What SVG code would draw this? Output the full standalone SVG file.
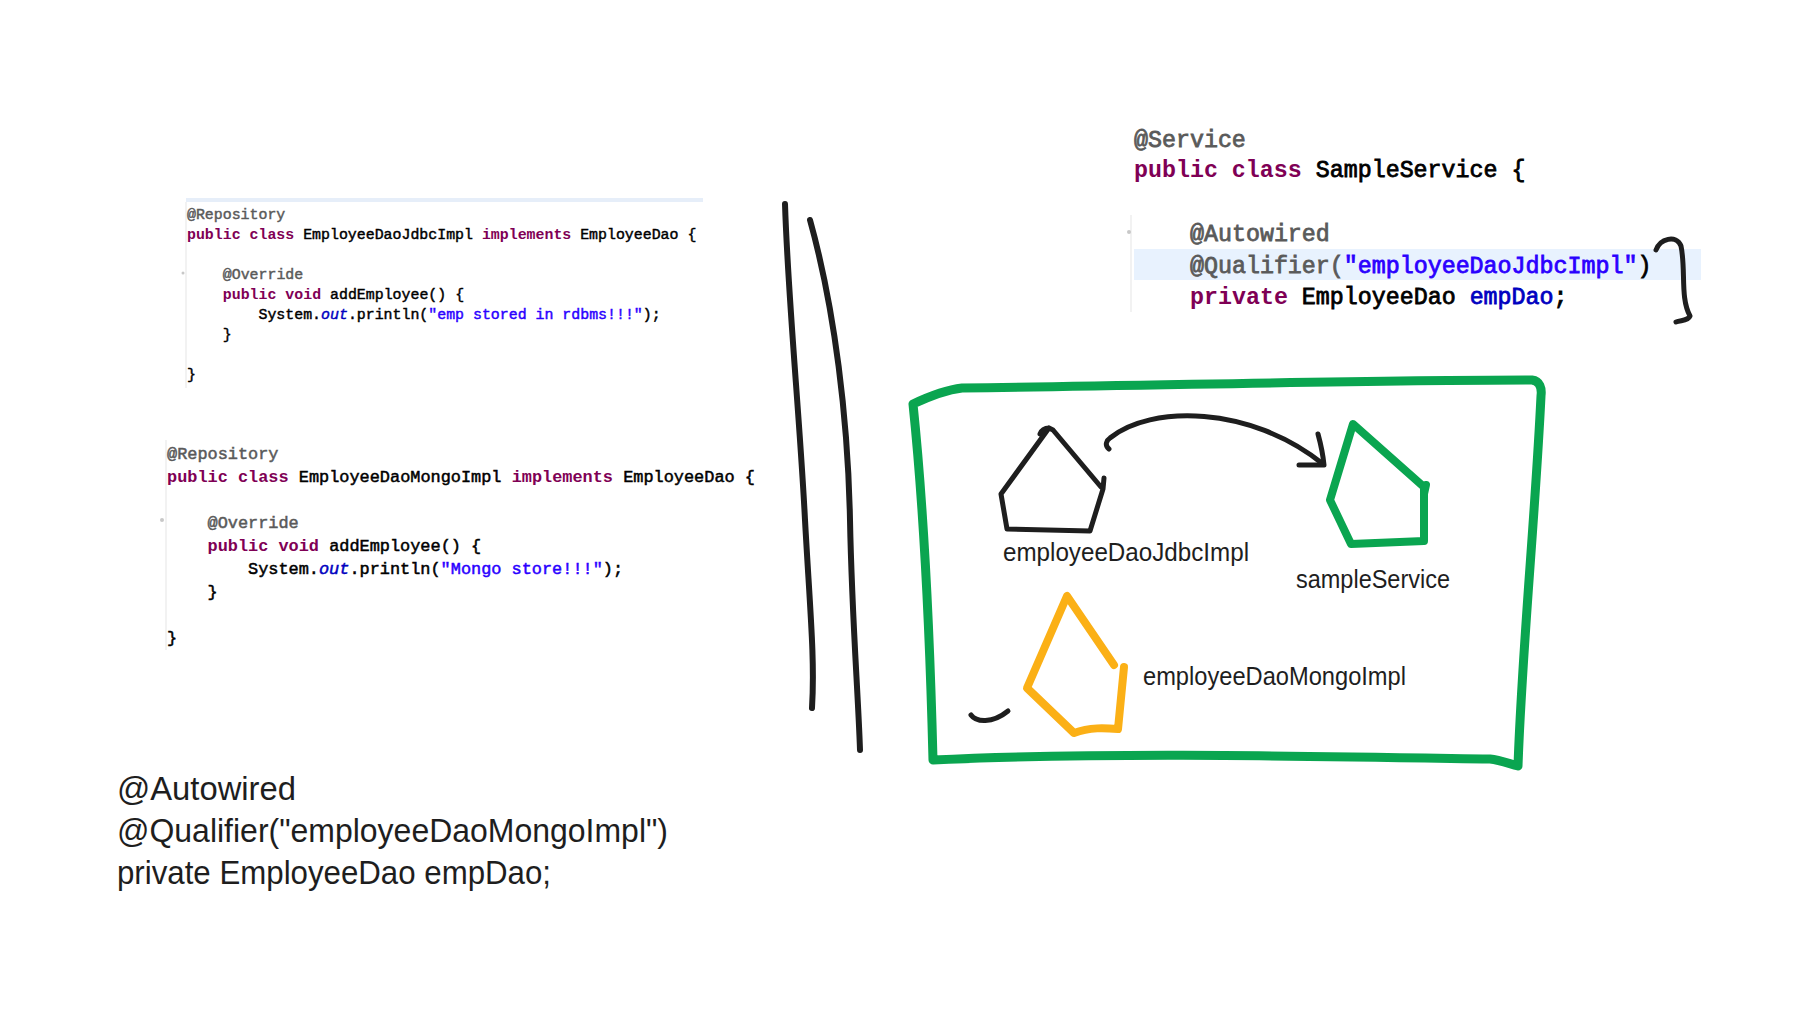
<svg xmlns="http://www.w3.org/2000/svg" width="1801" height="1010" viewBox="0 0 1801 1010">
<style>
.code{font-family:"Liberation Mono","DejaVu Sans Mono",monospace;}
.kw{fill:#7f0055;font-weight:bold}
.an{fill:#5a5a5a;stroke:#5a5a5a}
.st{fill:#2a00ff;stroke:#2a00ff}
.fd{fill:#0000c0;stroke:#0000c0}
.it{fill:#0000c0;stroke:#0000c0;font-style:italic}
.tx{fill:#000;stroke:#000}
.hand{font-family:"Liberation Sans","DejaVu Sans",sans-serif;fill:#1e1e1e}
.ink{fill:none;stroke:#1e1e1e;stroke-linecap:round;stroke-linejoin:round}
.green{fill:none;stroke:#0aa550;stroke-linecap:round;stroke-linejoin:round}
.orange{fill:none;stroke:#fbb016;stroke-linecap:round;stroke-linejoin:round}
.edge{stroke:#eeeeee;stroke-width:1.5}
</style>
<rect width="1801" height="1010" fill="#ffffff"/>

<g id="code-jdbc" class="code" font-size="14.9" stroke-width="0.45">
  <line x1="186" y1="200" x2="703" y2="200" stroke="#e6eef9" stroke-width="4"/>
  <line class="edge" x1="186" y1="202" x2="186" y2="388"/>
  <circle cx="183" cy="273" r="1.5" fill="#c8c8c8" stroke="none"/>
  <text x="187" y="219" class="an">@Repository</text>
  <text x="187" y="239"><tspan class="kw">public class</tspan><tspan class="tx"> EmployeeDaoJdbcImpl </tspan><tspan class="kw">implements</tspan><tspan class="tx"> EmployeeDao {</tspan></text>
  <text x="222.8" y="279" class="an">@Override</text>
  <text x="222.8" y="299"><tspan class="kw">public void</tspan><tspan class="tx"> addEmployee() {</tspan></text>
  <text x="258.5" y="319"><tspan class="tx">System.</tspan><tspan class="it">out</tspan><tspan class="tx">.println(</tspan><tspan class="st">"emp stored in rdbms!!!"</tspan><tspan class="tx">);</tspan></text>
  <text x="222.8" y="339" class="tx">}</text>
  <text x="187" y="379" class="tx">}</text>
</g>

<g id="code-mongo" class="code" font-size="16.9" stroke-width="0.5">
  <line class="edge" x1="166" y1="440" x2="166" y2="650"/>
  <circle cx="162" cy="520" r="2" fill="#c8c8c8" stroke="none"/>
  <text x="167" y="459" class="an">@Repository</text>
  <text x="167" y="482"><tspan class="kw">public class</tspan><tspan class="tx"> EmployeeDaoMongoImpl </tspan><tspan class="kw">implements</tspan><tspan class="tx"> EmployeeDao {</tspan></text>
  <text x="207.5" y="528" class="an">@Override</text>
  <text x="207.5" y="551"><tspan class="kw">public void</tspan><tspan class="tx"> addEmployee() {</tspan></text>
  <text x="248" y="574"><tspan class="tx">System.</tspan><tspan class="it">out</tspan><tspan class="tx">.println(</tspan><tspan class="st">"Mongo store!!!"</tspan><tspan class="tx">);</tspan></text>
  <text x="207.5" y="597" class="tx">}</text>
  <text x="167" y="643" class="tx">}</text>
</g>

<g id="code-service" class="code" font-size="23.3" stroke-width="0.8">
  <rect x="1134" y="249" width="567" height="31" fill="#e8f2fe" stroke="none"/>
  <line class="edge" x1="1131" y1="215" x2="1131" y2="312"/>
  <circle cx="1129" cy="232" r="2" fill="#c8c8c8" stroke="none"/>
  <text x="1134" y="147" class="an">@Service</text>
  <text x="1134" y="177"><tspan class="kw">public class</tspan><tspan class="tx"> SampleService {</tspan></text>
  <text x="1190" y="241" class="an">@Autowired</text>
  <text x="1190" y="273"><tspan class="an">@Qualifier(</tspan><tspan class="st">"employeeDaoJdbcImpl"</tspan><tspan class="tx">)</tspan></text>
  <text x="1190" y="304"><tspan class="kw">private</tspan><tspan class="tx"> EmployeeDao </tspan><tspan class="fd">empDao</tspan><tspan class="tx">;</tspan></text>
</g>

<g id="bracket">
  <path class="ink" stroke-width="5" d="M1656,250 C1660,239 1676,234 1681,246 C1686,270 1680,298 1690,316 C1688,321 1681,320 1676,322"/>
</g>

<g id="divider">
  <path class="ink" stroke-width="6" d="M785,204 C788,300 800,420 805,520 C810,610 815,660 812,708"/>
  <path class="ink" stroke-width="6" d="M810,220 C835,310 848,420 850,520 C852,620 858,690 860,750"/>
</g>

<g id="container">
  <path class="green" stroke-width="9" d="M913,404 C930,396 945,390 962,388 C1150,386 1350,380 1532,380 C1540,381 1542,388 1541,396 C1535,520 1522,650 1518,766 C1510,764 1500,760 1490,759 C1300,756 1100,752 933,760 C930,640 925,520 913,404"/>
</g>

<g id="connectors">
  <path class="ink" stroke-width="5" d="M1109,449 C1104,445 1107,440 1110,438 C1150,405 1250,405 1323,464"/>
  <path class="ink" stroke-width="5" d="M1318,434 C1321,445 1323,455 1324,465 L1299,465"/>
</g>

<g id="node-jdbc">
  <path class="ink" stroke-width="5" d="M1040,434 C1042,429 1046,428 1049,428 L1053,430 L1101,487 M1049,428 L1001,494 L1007,529 L1090,531 L1103,489 L1104,478"/>
  <text class="hand" x="1003" y="561" font-size="25" textLength="246" lengthAdjust="spacingAndGlyphs">employeeDaoJdbcImpl</text>
</g>

<g id="node-service">
  <path class="green" stroke-width="8" d="M1353,424 L1424,487 L1424,541 L1351,544 L1330,500 Z"/>
  <path class="green" stroke-width="8" d="M1424,494 L1426,485"/>
  <text class="hand" x="1296" y="588" font-size="25" textLength="154" lengthAdjust="spacingAndGlyphs">sampleService</text>
</g>

<g id="node-mongo">
  <path class="orange" stroke-width="8" d="M1114,665 L1067,596 L1027,688 L1074,733 C1090,727 1105,728 1118,729 L1124,667"/>
  <text class="hand" x="1143" y="685" font-size="25" textLength="263" lengthAdjust="spacingAndGlyphs">employeeDaoMongoImpl</text>
</g>

<g id="check">
  <path class="ink" stroke-width="5" d="M971,715 C976,722 992,724 1008,711"/>
</g>

<g id="note-bottom" class="hand" font-size="34">
  <text x="117" y="800" textLength="179" lengthAdjust="spacingAndGlyphs">@Autowired</text>
  <text x="117" y="842" textLength="551" lengthAdjust="spacingAndGlyphs">@Qualifier("employeeDaoMongoImpl")</text>
  <text x="117" y="884" textLength="434" lengthAdjust="spacingAndGlyphs">private EmployeeDao empDao;</text>
</g>
</svg>
